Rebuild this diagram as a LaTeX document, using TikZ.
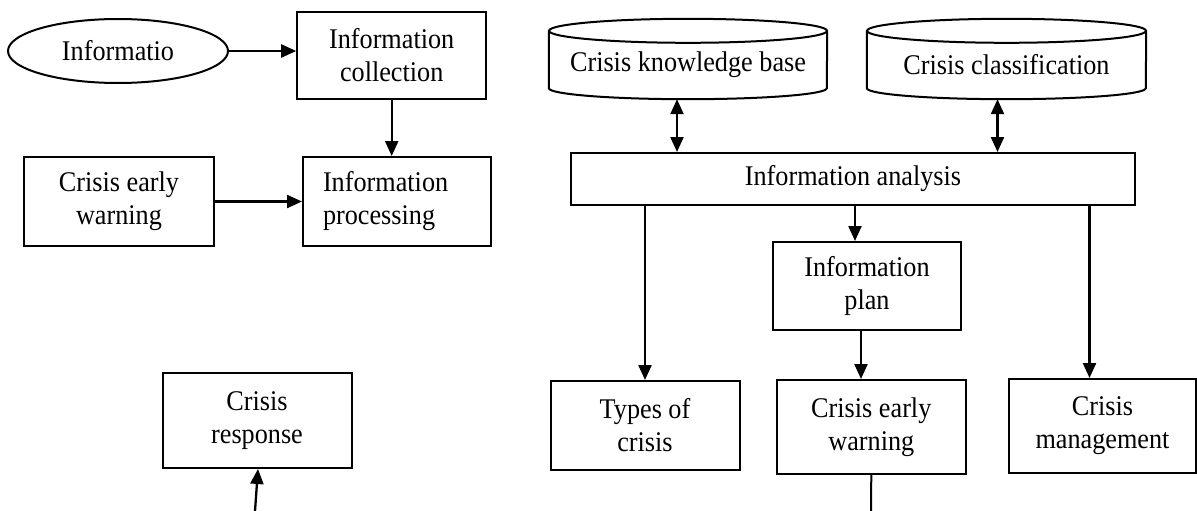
\documentclass[tikz,border=0pt]{standalone}
\usepackage{fontspec}
\setmainfont{Liberation Serif}[FakeStretch=0.92]
\usetikzlibrary{arrows.meta,shapes.geometric}
\tikzset{
  base/.style={font=\fontsize{28.5}{33}\selectfont, align=center, inner sep=2pt},
  box/.style={base, draw, line width=2pt, minimum width=#1, minimum height=89pt},
  oval/.style={base, draw, ellipse, line width=2pt, minimum width=220pt, minimum height=64pt},
  cylbody/.style={base, minimum width=#1, minimum height=68pt},
  cylline/.style={line width=2pt},
  arr/.style={line width=2.3pt, -{Triangle[length=15pt,width=13pt]}},
  darr/.style={line width=2.3pt, {Triangle[length=15pt,width=13pt]}-{Triangle[length=15pt,width=13pt]}},
  plain/.style={line width=2pt}
}
\begin{document}
\begin{tikzpicture}[x=1pt,y=-1pt]
\useasboundingbox (0,0) rectangle (1197,511);
% left part
\node[oval] (info) at (118,51) {Informatio};
\node[box=189pt, minimum height=87pt] (coll) at (391.7,55.5) {Information\\collection};
\node[box=188pt, text width=148pt, align=left, inner xsep=20pt] (proc) at (397,201.5) {Information\\processing};
\node[box=190pt] (cewL) at (119,201.5) {Crisis early\\warning};
\node[box=189pt, minimum height=95pt] (resp) at (257,420.5) {Crisis\\response};
\coordinate (respfoot) at (255,511);
% right part: cylinders
\node[cylbody=278pt] (ckb) at (688,65) {Crisis knowledge base};
\node[cylbody=279pt] (ccl) at (1006.5,65) {Crisis classification};
\foreach \c/\r in {ckb/139,ccl/139.5}{
  \draw[cylline] (\c.north west) -- ([yshift=11pt]\c.south west)
     arc[start angle=180,end angle=360,x radius=\r pt,y radius=11pt] -- (\c.north east);
  \draw[cylline] (\c.north) ellipse[x radius=\r pt,y radius=12pt];
}
\node[box=564pt, minimum height=52pt] (ana) at (853,179) {Information analysis};
\node[box=188pt, minimum height=88pt] (plan) at (867,286) {Information\\plan};
\node[box=189pt] (types) at (645,425.5) {Types of\\crisis};
\node[box=188.6pt, minimum height=94pt] (cewR) at (871.3,427) {Crisis early\\warning};
\node[box=187pt, minimum height=94pt] (mgmt) at (1102.5,426) {Crisis\\management};
\coordinate (cewfoot) at (871,511);
% connectors
\draw[arr] (info.east) -- (info.east -| coll.west);
\draw[arr] (coll.south) -- (coll.south |- proc.north);
\draw[arr] (cewL.east) -- (proc.west);
\draw[arr] (respfoot) -- ([xshift=1pt]resp.south);
\draw[darr] ([xshift=-11pt]ckb.south) -- ([xshift=-11pt]ckb.south |- ana.north);
\draw[darr] ([xshift=-9pt]ccl.south) -- ([xshift=-9pt]ccl.south |- ana.north);
\draw[arr] (types.north |- ana.south) -- (types.north);
\draw[arr] ([xshift=-12pt]plan.north |- ana.south) -- ([xshift=-12pt]plan.north);
\draw[arr] ([xshift=-6pt]plan.south) -- ([xshift=-6pt]plan.south |- cewR.north);
\draw[arr] ([xshift=-13pt]mgmt.north |- ana.south) -- ([xshift=-13pt]mgmt.north);
\draw[plain] (cewR.south) -- (cewfoot);
\end{tikzpicture}
\end{document}
